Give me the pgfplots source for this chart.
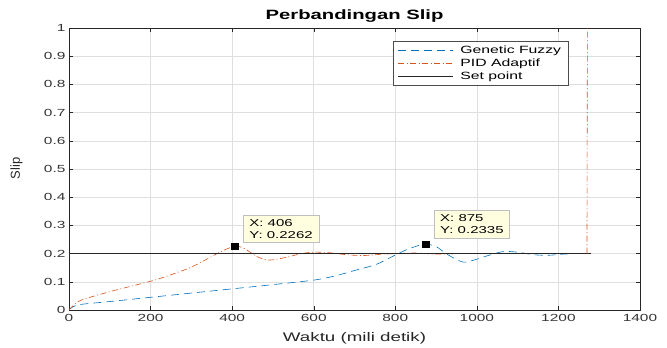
\documentclass[border=0pt]{standalone}
\usepackage{pgfplots}
\pgfplotsset{compat=1.18}
\usepackage{fontspec}
\setmainfont{Liberation Sans}[FakeStretch=1.5]
\newfontfamily\plainfont{Liberation Sans}
\definecolor{mblue}{rgb}{0,0.447,0.741}
\definecolor{morange}{rgb}{0.85,0.325,0.098}
\definecolor{tipfill}{rgb}{1,1,0.88}
\tikzset{
  gfstyle/.style={draw=mblue, line width=0.6pt, dash pattern=on 8pt off 5pt},
  pidstyle/.style={draw=morange, line width=0.6pt, dash pattern=on 6pt off 2.5pt on 1pt off 2.5pt},
  spstyle/.style={draw=black!85, line width=0.6pt},
  tipstyle/.style={anchor=south west, fill=tipfill, draw=black!25, align=left,
    inner xsep=6pt, inner ysep=4pt, font=\fontsize{10}{12.5}\selectfont},
}
\begin{document}
\begin{tikzpicture}
\begin{axis}[
  scale only axis, width=571pt, height=282pt,
  xmin=0, xmax=1400, ymin=0, ymax=1,
  xtick={0,200,...,1400}, ytick={0,0.1,...,1},
  xticklabels={0,200,400,600,800,1000,1200,1400},
  yticklabels={0,0.1,0.2,0.3,0.4,0.5,0.6,0.7,0.8,0.9,1},
  /pgf/number format/assume math mode=true,
  tick align=inside, tick pos=both,
  major tick length=4pt,
  grid=major, grid style={gray!25, line width=0.5pt},
  axis line style={black!85, line width=0.6pt},
  tick style={black!85},
  ticklabel style={font=\fontsize{10.3}{12}\selectfont, text=black!80},
  xticklabel style={yshift=-1pt},
  xlabel={Waktu (mili detik)},
  ylabel={\plainfont Slip},
  label style={font=\fontsize{12.5}{14}\selectfont, text=black!85},
  xlabel style={at={(axis description cs:0.5,-0.1)}, anchor=center},
  ylabel style={at={(axis description cs:-0.092,0.502)}, anchor=center, font=\fontsize{13}{14}\selectfont},
  title={\bfseries Perbandingan Slip},
  title style={font=\fontsize{13.5}{14}\selectfont, at={(axis description cs:0.5,1.022)}, anchor=center},
  legend style={at={(0.567,0.954)}, anchor=north west, draw=black!70,
    font=\fontsize{10.5}{12}\selectfont, row sep=0pt, inner xsep=5pt, inner ysep=2.5pt},
  legend cell align=left,
]
\addlegendimage{legend image code/.code={\draw[gfstyle] (0pt,0pt) -- (55pt,0pt); \path (60pt,0pt);}}
\addlegendentry{Genetic Fuzzy}
\addlegendimage{legend image code/.code={\draw[pidstyle] (0pt,0pt) -- (55pt,0pt); \path (60pt,0pt);}}
\addlegendentry{PID Adaptif}
\addlegendimage{legend image code/.code={\draw[spstyle] (0pt,0pt) -- (55pt,0pt); \path (60pt,0pt);}}
\addlegendentry{Set point}
\addplot[gfstyle, smooth, forget plot] coordinates {
(0,0) (10,0.012) (30,0.02) (100,0.03) (200,0.045) (300,0.06) (400,0.075)
(500,0.09) (600,0.106) (650,0.12) (700,0.14) (750,0.16) (780,0.18)
(800,0.195) (830,0.215) (860,0.23) (875,0.2335) (900,0.225) (930,0.195)
(966,0.17) (995,0.178) (1025,0.192) (1064,0.207) (1100,0.205) (1140,0.196)
(1175,0.194) (1210,0.198) (1245,0.2) (1280,0.2)};
\addplot[pidstyle, smooth, forget plot] coordinates {
(0,0) (10,0.015) (30,0.035) (100,0.065) (200,0.102) (250,0.125) (300,0.152)
(340,0.182) (370,0.205) (406,0.2262) (430,0.218) (460,0.19) (490,0.177)
(530,0.186) (570,0.2) (600,0.205) (640,0.203) (680,0.196) (720,0.193)
(760,0.197) (800,0.2) (850,0.202) (900,0.198) (950,0.2) (1000,0.201)
(1100,0.2) (1200,0.2) (1270,0.2)};
\addplot[spstyle, forget plot] coordinates {(0,0.2) (1280,0.2)};
% final jump of the PID response
\addplot[pidstyle, forget plot] coordinates {(1270,0.2) (1271,1)};
% data tips
\addplot[only marks, mark=square*, mark size=3.2pt, black, forget plot] coordinates {(406,0.2262) (875,0.2335)};
\node[tipstyle] at (axis cs:427,0.238) {X: 406\\Y: 0.2262};
\node[tipstyle] at (axis cs:895,0.255) {X: 875\\Y: 0.2335};
\end{axis}
\useasboundingbox (current axis.south west) ++(-69pt,-37pt) rectangle ++(667pt,347pt);
\end{tikzpicture}
\end{document}
